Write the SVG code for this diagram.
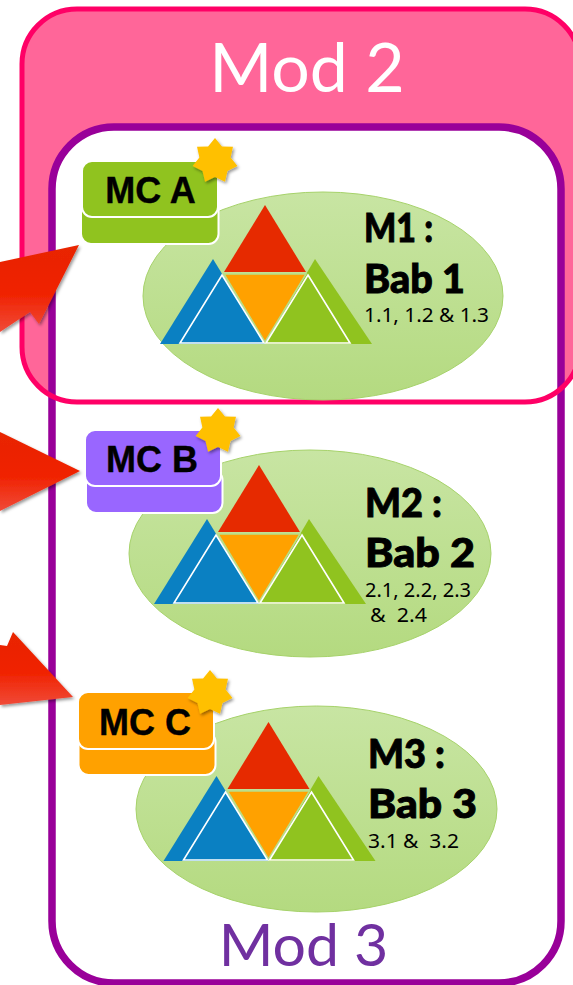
<svg xmlns="http://www.w3.org/2000/svg" xmlns:xlink="http://www.w3.org/1999/xlink" width="573" height="985" viewBox="0 0 573 985">
<style>
.bab{font-family:"Lato","Liberation Sans",sans-serif;font-weight:900;font-size:39px;fill:#000;stroke:#000;stroke-width:.9px}
.sub{font-family:"Noto Sans","Open Sans",sans-serif;font-size:20px;fill:#000;white-space:pre}
.mc{font-family:"Liberation Sans",Arial,sans-serif;font-weight:700;font-size:36px;fill:#000;text-anchor:middle;stroke:#000;stroke-width:.4px}
.mod{font-family:"Lato","Open Sans",sans-serif;text-anchor:middle}
.oval{fill:url(#og);stroke:#a6d26a;stroke-width:1}
.arrow{fill:url(#rg);filter:url(#sh)}
.star{fill:#ffc000;filter:url(#sh)}
.card{stroke:#fff;stroke-width:2}
</style>
<defs>
<linearGradient id="og" x1="0" y1="0" x2="0" y2="1"><stop offset="0" stop-color="#c8e5a3"/><stop offset="1" stop-color="#b4da80"/></linearGradient>
<linearGradient id="rg" x1="0" y1="0" x2="0" y2="1"><stop offset="0" stop-color="#e82500"/><stop offset="0.55" stop-color="#f02200"/><stop offset="1" stop-color="#f04a38"/></linearGradient>
<filter id="sh" x="-20%" y="-20%" width="150%" height="150%"><feDropShadow dx="1.5" dy="2" stdDeviation="1.5" flood-color="#000" flood-opacity="0.4"/></filter>
<g id="tri">
<polygon points="160,344 213,259 265,344" fill="#0a80c2"/>
<polygon points="315,259 372,344 265,344" fill="#90c31f"/>
<polygon points="265,205 306,272 224,272" fill="#e62a00"/>
<polygon points="224,274 306,274 265,342" fill="#ffa100" stroke="#b9dd86" stroke-width="1.5"/>
<polygon points="222,275 264,343 180,343" fill="#0a80c2" stroke="#fff" stroke-width="1.6"/>
<polygon points="308,275 350,343 266,343" fill="#90c31f" stroke="#fff" stroke-width="1.6"/>
</g>
<polygon id="st" points="0,-23 6.94,-14.42 17.98,-14.34 15.6,-3.56 22.42,5.12 12.51,9.98 9.98,20.72 0,16 -9.98,20.72 -12.51,9.98 -22.42,5.12 -15.6,-3.56 -17.98,-14.34 -6.94,-14.42"/>
</defs>

<g id="mod2-back"><rect x="22" y="9" width="558" height="393" rx="55" fill="#ff6699"/></g>
<g id="mod3"><rect x="52" y="127" width="509" height="856" rx="62" fill="#fff" stroke="#990099" stroke-width="7.5"/>
<text class="mod" x="303.500" y="966" fill="#7030a0" font-size="59">Mod 3</text></g>
<g id="mod2"><rect x="22" y="9" width="558" height="393" rx="55" fill="none" stroke="#ff0066" stroke-width="5"/>
<text class="mod" x="307" y="92" fill="#fff" font-size="68">Mod 2</text></g>

<g id="m1">
<ellipse class="oval" cx="323" cy="296" rx="180" ry="104"/>
<use href="#tri"/>
<text class="bab" x="364" y="242" textLength="69" lengthAdjust="spacingAndGlyphs">M1 :</text>
<text class="bab" x="364" y="293" textLength="101" lengthAdjust="spacingAndGlyphs">Bab 1</text>
<text class="sub" x="364" y="322" textLength="125" lengthAdjust="spacingAndGlyphs">1.1, 1.2 &amp; 1.3</text>
</g>
<g id="m2">
<ellipse class="oval" cx="310" cy="553.500" rx="181" ry="103.500"/>
<use href="#tri" transform="translate(-6,260)"/>
<text class="bab" x="365" y="517" textLength="77" lengthAdjust="spacingAndGlyphs">M2 :</text>
<text class="bab" x="365" y="567" textLength="110" lengthAdjust="spacingAndGlyphs">Bab 2</text>
<text class="sub" x="365" y="597" textLength="106" lengthAdjust="spacingAndGlyphs">2.1, 2.2, 2.3</text>
<text class="sub" x="370" y="622" textLength="57" lengthAdjust="spacingAndGlyphs">&amp;  2.4</text>
</g>
<g id="m3">
<ellipse class="oval" cx="316.500" cy="809" rx="180.500" ry="103"/>
<use href="#tri" transform="translate(3.500,517)"/>
<text class="bab" x="368" y="768" textLength="77" lengthAdjust="spacingAndGlyphs">M3 :</text>
<text class="bab" x="368" y="818" textLength="109" lengthAdjust="spacingAndGlyphs">Bab 3</text>
<text class="sub" x="368" y="848" textLength="91" lengthAdjust="spacingAndGlyphs">3.1 &amp;  3.2</text>
</g>

<g id="connectors">
<polygon class="arrow" points="79,245 0,262 0,332 30,312 39,324"/>
<polygon class="arrow" points="80,471 0,432 0,511"/>
<polygon class="arrow" points="73,697 13,632 7,646 0,645 0,705"/>
</g>

<g id="mc-a">
<rect class="card" x="81" y="200" width="137.500" height="44" rx="10" fill="#90c31f"/>
<rect class="card" x="82" y="161" width="136" height="56" rx="10" fill="#90c31f"/>
<text class="mc" x="150.500" y="203">MC A</text>
<use href="#st" class="star" transform="translate(215,161)"/>
</g>
<g id="mc-b">
<rect class="card" x="86" y="470" width="136.500" height="43" rx="10" fill="#9966ff"/>
<rect class="card" x="85" y="430" width="136" height="56" rx="10" fill="#9966ff"/>
<text class="mc" x="152" y="472">MC B</text>
<use href="#st" class="star" transform="translate(218,431)"/>
</g>
<g id="mc-c">
<rect class="card" x="78.500" y="732" width="137" height="43" rx="10" fill="#ffa100"/>
<rect class="card" x="78" y="692" width="136" height="57" rx="10" fill="#ffa100"/>
<text class="mc" x="145" y="735">MC C</text>
<use href="#st" class="star" transform="translate(210,693)"/>
</g>
</svg>
